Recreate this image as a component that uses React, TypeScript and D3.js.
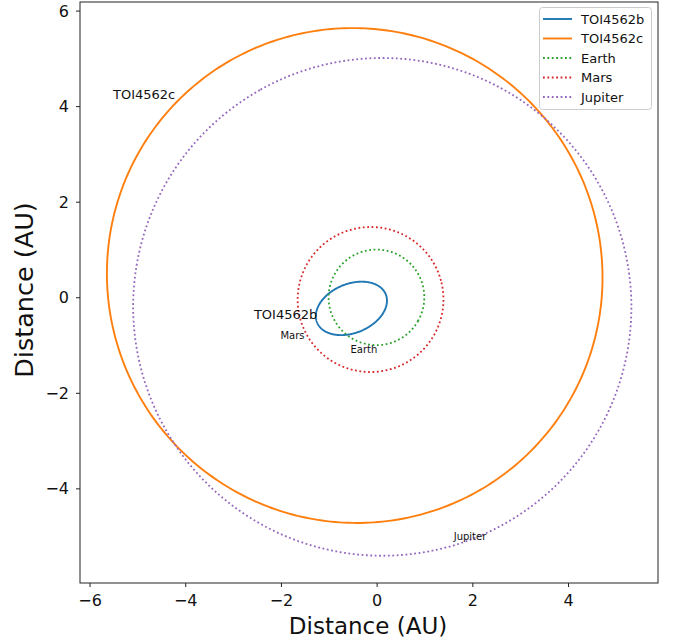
import React from "react";
import * as d3 from "d3";

// Orbit elements: name, semi-major axis (AU), eccentricity, periapsis direction (deg)
const orbitNames = ["TOI4562b", "TOI4562c", "Earth", "Mars", "Jupiter"];
const semiMajor = [0.776, 5.2, 1.0, 1.524, 5.21];
const eccentricity = [0.75, 0.127, 0.0167, 0.0934, 0.042];
const periapsisDeg = [22.5, -44.8, -30, 15, 119.4];
const orbitColors = ["#1f77b4", "#ff7f0e", "#2ca02c", "#d62728", "#9467bd"];
const orbitDotted = [false, false, true, true, true];

const xTicks = [-6, -4, -2, 0, 2, 4];
const yTicks = [-4, -2, 0, 2, 4, 6];

// Text annotations in data coords
const labelTexts = ["TOI4562c", "TOI4562b", "Mars", "Earth", "Jupiter"];
const labelX = [-5.52, -2.576, -2.02, -0.557, 1.6];
const labelY = [4.16, -0.44, -0.86, -1.15, -5.08];
const labelSize = [13, 13, 10, 10, 10];

const W = 678, H = 644;
const left = 80, right = 658, top = 2, bottom = 583;

export default function App() {
  const x = d3.scaleLinear().domain([-6.21, 5.87]).range([left, right]);
  const y = d3.scaleLinear().domain([-5.97, 6.19]).range([bottom, top]);
  const fmt = d3.format("d");

  const paths = orbitNames.map((name, i) => {
    const a = semiMajor[i], e = eccentricity[i];
    const b = a * Math.sqrt(1 - e * e);
    const w = (periapsisDeg[i] * Math.PI) / 180;
    const pts: [number, number][] = d3.range(0, 360, 1).map((deg) => {
      const E = (deg * Math.PI) / 180;
      const px = a * (Math.cos(E) - e);
      const py = b * Math.sin(E);
      return [px * Math.cos(w) - py * Math.sin(w), px * Math.sin(w) + py * Math.cos(w)];
    });
    const line = d3
      .line<[number, number]>()
      .x((d) => x(d[0]))
      .y((d) => y(d[1]))
      .curve(d3.curveLinearClosed);
    return { name, d: line(pts) || "", color: orbitColors[i], dotted: orbitDotted[i] };
  });

  const font = "DejaVu Sans, sans-serif";

  return (
    <svg width={W} height={H} style={{ position: "absolute", left: 0, top: 0, background: "#fff" }} fontFamily={font}>
      <defs>
        <clipPath id="plotclip">
          <rect x={left} y={top} width={right - left} height={bottom - top} />
        </clipPath>
      </defs>
      <rect x={0} y={0} width={W} height={H} fill="#fff" />
      <g clipPath="url(#plotclip)">
        {paths.map((p) => (
          <path
            key={p.name}
            d={p.d}
            fill="none"
            stroke={p.color}
            strokeWidth={p.dotted ? 1.8 : 1.9}
            strokeDasharray={p.dotted ? "1.8 2.6" : undefined}
          />
        ))}
        {labelTexts.map((t, i) => (
          <text key={t} x={x(labelX[i])} y={y(labelY[i])} fontSize={labelSize[i]} fill="#111">
            {t}
          </text>
        ))}
      </g>
      {/* frame */}
      <rect x={left} y={top} width={right - left} height={bottom - top} fill="none" stroke="#222" strokeWidth={1} />
      {/* x ticks */}
      {xTicks.map((t) => (
        <g key={"x" + t}>
          <line x1={x(t)} x2={x(t)} y1={bottom} y2={bottom + 4} stroke="#222" />
          <text x={x(t)} y={606} fontSize={16} textAnchor="middle" fill="#111">
            {fmt(t)}
          </text>
        </g>
      ))}
      {yTicks.map((t) => (
        <g key={"y" + t}>
          <line x1={left - 4} x2={left} y1={y(t)} y2={y(t)} stroke="#222" />
          <text x={69} y={y(t) + 5.5} fontSize={16} textAnchor="end" fill="#111">
            {fmt(t)}
          </text>
        </g>
      ))}
      <text x={368} y={634} fontSize={23} textAnchor="middle" fill="#111">
        Distance (AU)
      </text>
      <text transform={`translate(33,290) rotate(-90)`} fontSize={25.5} textAnchor="middle" fill="#111">
        Distance (AU)
      </text>
      {/* legend */}
      <rect x={539.5} y={7.5} width={112} height={102} rx={3} fill="#fff" fillOpacity={0.8} stroke="#ccc" />
      {paths.map((p, i) => (
        <g key={"lg" + p.name}>
          <line
            x1={543}
            x2={572}
            y1={19 + i * 19.5}
            y2={19 + i * 19.5}
            stroke={p.color}
            strokeWidth={p.dotted ? 1.8 : 1.9}
            strokeDasharray={p.dotted ? "1.8 2.6" : undefined}
          />
          <text x={581} y={19 + i * 19.5 + 4.5} fontSize={13} fill="#111">
            {p.name}
          </text>
        </g>
      ))}
    </svg>
  );
}
